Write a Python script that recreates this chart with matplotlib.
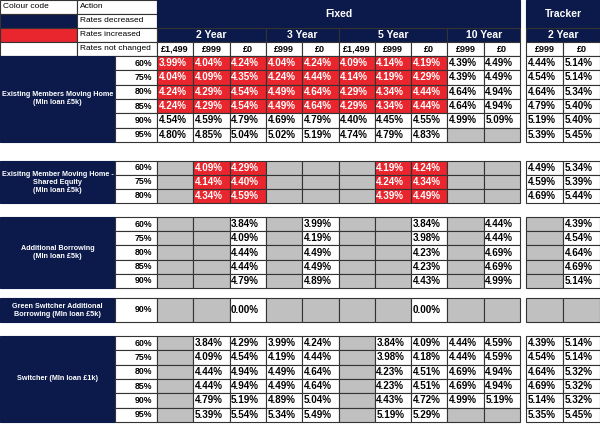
import matplotlib.pyplot as plt
from matplotlib.patches import Rectangle

NAVY = '#0c1a4b'
RED = '#e9262e'
GREY = '#c0c0c0'
FONT = 'Liberation Sans'

terms = ['2 Year', '3 Year', '5 Year', '10 Year']
term_span = [3, 2, 3, 2]
fees = ['£1,499', '£999', '£0', '£999', '£0', '£1,499', '£999', '£0', '£999', '£0']
tracker_fees = ['£999', '£0']

# section: label, ltv list, rows of 12 values ('' = not offered), red flag per row
sec1_label = 'Existing Members Moving Home\n(Mln loan £5k)'
sec1_ltv = ['60%', '75%', '80%', '85%', '90%', '95%']
sec1_rates = [
    ['3.99%', '4.04%', '4.24%', '4.04%', '4.24%', '4.09%', '4.14%', '4.19%', '4.39%', '4.49%', '4.44%', '5.14%'],
    ['4.04%', '4.09%', '4.35%', '4.24%', '4.44%', '4.14%', '4.19%', '4.29%', '4.39%', '4.49%', '4.54%', '5.14%'],
    ['4.24%', '4.29%', '4.54%', '4.49%', '4.64%', '4.29%', '4.34%', '4.44%', '4.64%', '4.94%', '4.64%', '5.34%'],
    ['4.24%', '4.29%', '4.54%', '4.49%', '4.64%', '4.29%', '4.34%', '4.44%', '4.64%', '4.94%', '4.79%', '5.40%'],
    ['4.54%', '4.59%', '4.79%', '4.69%', '4.79%', '4.40%', '4.45%', '4.55%', '4.99%', '5.09%', '5.19%', '5.40%'],
    ['4.80%', '4.85%', '5.04%', '5.02%', '5.19%', '4.74%', '4.79%', '4.83%', '', '', '5.39%', '5.45%'],
]
sec1_red = [[c < 8 for c in range(12)] if r < 4 else [False] * 12 for r in range(6)]

sec2_label = 'Exisitng Member Moving Home -\nShared Equity\n(Mln loan £5k)'
sec2_ltv = ['60%', '75%', '80%']
sec2_rates = [
    ['', '4.09%', '4.29%', '', '', '', '4.19%', '4.24%', '', '', '4.49%', '5.34%'],
    ['', '4.14%', '4.40%', '', '', '', '4.24%', '4.34%', '', '', '4.59%', '5.39%'],
    ['', '4.34%', '4.59%', '', '', '', '4.39%', '4.49%', '', '', '4.69%', '5.44%'],
]
sec2_red = [[v != '' and c < 10 for c, v in enumerate(row)] for row in sec2_rates]

sec3_label = 'Additional Borrowing\n(Mln loan £5k)'
sec3_ltv = ['60%', '75%', '80%', '85%', '90%']
sec3_rates = [
    ['', '', '3.84%', '', '3.99%', '', '', '3.84%', '', '4.44%', '', '4.39%'],
    ['', '', '4.09%', '', '4.19%', '', '', '3.98%', '', '4.44%', '', '4.54%'],
    ['', '', '4.44%', '', '4.49%', '', '', '4.23%', '', '4.69%', '', '4.64%'],
    ['', '', '4.44%', '', '4.49%', '', '', '4.23%', '', '4.69%', '', '4.69%'],
    ['', '', '4.79%', '', '4.89%', '', '', '4.43%', '', '4.99%', '', '5.14%'],
]

sec4_label = 'Green Switcher Additional\nBorrowing (Mln loan £5k)'
sec4_ltv = ['90%']
sec4_rates = [['', '', '0.00%', '', '', '', '', '0.00%', '', '', '', '']]

sec5_label = 'Switcher (Mln loan £1k)'
sec5_ltv = ['60%', '75%', '80%', '85%', '90%', '95%']
sec5_rates = [
    ['', '3.84%', '4.29%', '3.99%', '4.24%', '', '3.84%', '4.09%', '4.44%', '4.59%', '4.39%', '5.14%'],
    ['', '4.09%', '4.54%', '4.19%', '4.44%', '', '3.98%', '4.18%', '4.44%', '4.59%', '4.54%', '5.14%'],
    ['', '4.44%', '4.94%', '4.49%', '4.64%', '', '4.23%', '4.51%', '4.69%', '4.94%', '4.64%', '5.32%'],
    ['', '4.44%', '4.94%', '4.49%', '4.64%', '', '4.23%', '4.51%', '4.69%', '4.94%', '4.69%', '5.32%'],
    ['', '4.79%', '5.19%', '4.89%', '5.04%', '', '4.43%', '4.72%', '4.99%', '5.19%', '5.14%', '5.32%'],
    ['', '5.39%', '5.54%', '5.34%', '5.49%', '', '5.19%', '5.29%', '', '', '5.35%', '5.45%'],
]

# layout (pixel units)
LBL_W = 115
LTV_X0, LTV_X1 = 115, 157
FX0, FW = 157, 36.3
TX0, TW = 526, 37


def col_x(c):
    return FX0 + c * FW if c < 10 else TX0 + (c - 10) * TW


def col_w(c):
    return FW if c < 10 else TW


fig = plt.figure(figsize=(6, 4.24), dpi=100)
ax = fig.add_axes([0, 0, 1, 1])
ax.set_xlim(0, 600)
ax.set_ylim(424, 0)
ax.axis('off')


def box(x, y, w, h, fc, ec='#333333', lw=0.8):
    ax.add_patch(Rectangle((x, y), w, h, facecolor=fc, edgecolor=ec, linewidth=lw))


def txt(x, y, s, color='black', size=7, ha='center', weight='bold'):
    ax.text(x, y, s, color=color, fontsize=size, ha=ha, va='center',
            fontfamily=FONT, fontweight=weight)


# legend
legend = [('Colour code', 'white', 'Action'), ('', NAVY, 'Rates decreased'),
          ('', RED, 'Rates increased'), ('', 'white', 'Rates not changed')]
for i, (a, fc, b) in enumerate(legend):
    y = i * 14
    box(0, y, 77, 14, fc)
    box(77, y, 80, 14, 'white')
    txt(3, y + 7, a, size=6, ha='left', weight='normal')
    txt(80, y + 7, b, size=6, ha='left', weight='normal')

# headers
box(FX0, 0, 10 * FW, 28, NAVY, ec=NAVY)
txt(FX0 + 5 * FW, 14, 'Fixed', color='white', size=7.5)
box(TX0, 0, 2 * TW, 28, NAVY, ec=NAVY)
txt(TX0 + TW, 14, 'Tracker', color='white', size=7.5)
c = 0
for t, span in zip(terms, term_span):
    box(col_x(c), 28, span * FW, 14, NAVY, ec='#333333')
    txt(col_x(c) + span * FW / 2, 35, t, color='white', size=7.5)
    c += span
box(TX0, 28, 2 * TW, 14, NAVY)
txt(TX0 + TW, 35, '2 Year', color='white', size=7.5)
for c, f in enumerate(fees + tracker_fees):
    box(col_x(c), 42, col_w(c), 14, 'white')
    txt(col_x(c) + col_w(c) / 2, 49, f, size=6.5)

sections = [
    (sec1_label, sec1_ltv, sec1_rates, sec1_red, 56, 14.33),
    (sec2_label, sec2_ltv, sec2_rates, sec2_red, 161, 14.0),
    (sec3_label, sec3_ltv, sec3_rates, None, 217, 14.2),
    (sec4_label, sec4_ltv, sec4_rates, None, 298, 24.0),
    (sec5_label, sec5_ltv, sec5_rates, None, 336, 14.33),
]
for label, ltvs, rates, red, y0, rh in sections:
    n = len(ltvs)
    box(0, y0, LBL_W, n * rh, NAVY, ec=NAVY)
    txt(LBL_W / 2, y0 + n * rh / 2, label, color='white', size=5.2)
    for r, ltv in enumerate(ltvs):
        y = y0 + r * rh
        box(LTV_X0, y, LTV_X1 - LTV_X0, rh, 'white')
        txt(LTV_X1 - 5, y + rh / 2, ltv, size=6.3, ha='right')
        for c, v in enumerate(rates[r]):
            is_red = red is not None and red[r][c]
            fc = RED if is_red else ('white' if v else GREY)
            box(col_x(c), y, col_w(c), rh, fc)
            if v:
                txt(col_x(c) + 1.5, y + rh / 2, v,
                    color='white' if is_red else 'black', size=7.1, ha='left')

fig.savefig('out.png', dpi=100)
